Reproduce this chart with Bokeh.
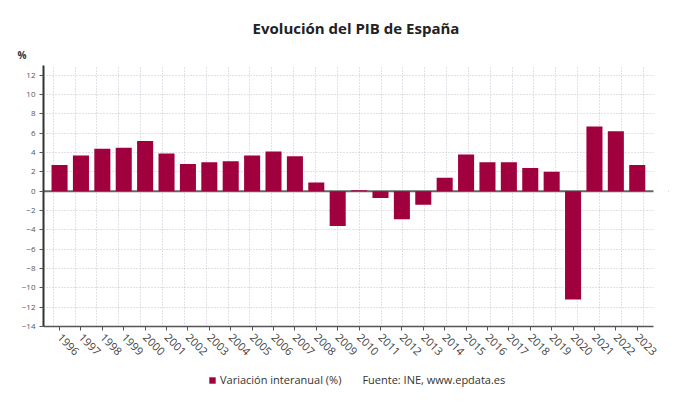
import numpy as np
from bokeh.plotting import figure
from bokeh.models import (Range1d, FixedTicker, Legend, LegendItem, Span, ColumnDataSource,
                          Title, BoxAnnotation)
from bokeh.embed import file_html
from bokeh.resources import INLINE

years = [str(y) for y in range(1996, 2024)]
values = [2.7, 3.7, 4.4, 4.5, 5.2, 3.9, 2.8, 3.0, 3.1, 3.7, 4.1, 3.6, 0.9, -3.6,
          0.1, -0.7, -2.9, -1.4, 1.4, 3.8, 3.0, 3.0, 2.4, 2.0, -11.2, 6.7, 6.2, 2.7]
y_ticks = list(range(-14, 13, 2))
Y_MIN, Y_MAX = -14, 13
X_MIN, X_MAX = -0.75, 27.76

FONT = "Open Sans"
BAR = "#a1003f"

xs = list(range(len(years)))
src = ColumnDataSource(dict(x=xs, top=values, year=years))

# frame extended below the axis (legend line) and to the right (last rotated label)
px_per_unit_y = 261 / (Y_MAX - Y_MIN)
frame_h = 324
y_start = Y_MAX - frame_h / px_per_unit_y
px_per_unit_x = 610 / (X_MAX - X_MIN)
frame_w = 625
x_end = X_MIN + frame_w / px_per_unit_x

p = figure(frame_width=frame_w, frame_height=frame_h, output_backend="svg", toolbar_location=None,
           x_range=Range1d(X_MIN, x_end), y_range=Range1d(y_start, Y_MAX),
           min_border_left=43, min_border_right=6, min_border_top=65, min_border_bottom=0)
p.outline_line_color = None
p.background_fill_color = "white"
p.title = None

r = p.vbar(x="x", top="top", bottom=0, width=0.75, source=src,
           fill_color=BAR, line_color=None)
dummy = p.scatter(x=[0], y=[0], size=0, fill_alpha=0, line_alpha=0)

# grid
p.xgrid.ticker = FixedTicker(ticks=[-0.294 + i * (27.28 + 0.294) / 27 for i in range(28)])
p.ygrid.ticker = FixedTicker(ticks=y_ticks)
for g in (p.xgrid, p.ygrid):
    g.grid_line_color = "#c9c1cf"
    g.grid_line_dash = "1 2"
    g.grid_line_width = 1

# hide grid below the x axis
p.add_layout(BoxAnnotation(top=Y_MIN, fill_color="white", fill_alpha=1, line_alpha=0,
                           level="underlay"))

p.add_layout(Span(location=0, dimension="width", line_color="#666666", line_width=2,
                  level="underlay"))

# hide grid and zero line right of the plot area
p.add_layout(BoxAnnotation(left=X_MAX, fill_color="white", fill_alpha=1, line_alpha=0,
                           level="underlay"))

# axes
p.xaxis.fixed_location = Y_MIN
p.xaxis.bounds = (X_MIN, X_MAX)
p.xaxis.ticker = FixedTicker(ticks=xs)
p.xaxis.major_label_overrides = {i: y for i, y in enumerate(years)}
p.xaxis.major_label_orientation = -np.pi / 4
p.xaxis.major_label_text_font = FONT
p.xaxis.major_label_text_font_size = "11px"
p.xaxis.major_label_text_color = "#444444"
p.xaxis.axis_line_color = "#555555"
p.xaxis.axis_line_width = 1.5
p.xaxis.major_tick_line_color = "#555555"
p.xaxis.major_tick_in = 0
p.xaxis.major_tick_out = 4
p.xaxis.minor_tick_line_color = None

p.yaxis.ticker = FixedTicker(ticks=y_ticks)
p.yaxis.bounds = (Y_MIN, Y_MAX)
p.yaxis.major_label_text_font = FONT
p.yaxis.major_label_text_font_size = "8px"
p.yaxis.major_label_text_color = "#555555"
p.yaxis.axis_line_color = "#333333"
p.yaxis.axis_line_width = 2
p.yaxis.major_tick_line_color = "#555555"
p.yaxis.major_tick_in = 0
p.yaxis.major_tick_out = 4
p.yaxis.minor_tick_line_color = None
p.yaxis.major_label_standoff = 4

# titles
pct = Title(text="%", align="left", offset=-26, text_font=FONT, text_font_style="bold",
            text_font_size="10px", text_color="#333333", standoff=8)
p.add_layout(pct, "above")
main = Title(text="Evolución del PIB de España", align="center", text_font=FONT,
             text_font_style="bold", text_font_size="15px", text_color="#222222", standoff=8)
p.add_layout(main, "above")

legend = Legend(items=[LegendItem(label="Variación interanual (%)", renderers=[r]),
                       LegendItem(label="Fuente: INE, www.epdata.es", renderers=[dummy])],
                location=(165, 2), orientation="horizontal", glyph_width=8, glyph_height=8,
                padding=0, margin=0, label_standoff=4, spacing=9,
                label_text_font=FONT, label_text_font_size="11px", label_text_color="#333333",
                background_fill_alpha=0, border_line_alpha=0)
p.add_layout(legend)

open("out.html", "w").write(file_html(p, INLINE))
